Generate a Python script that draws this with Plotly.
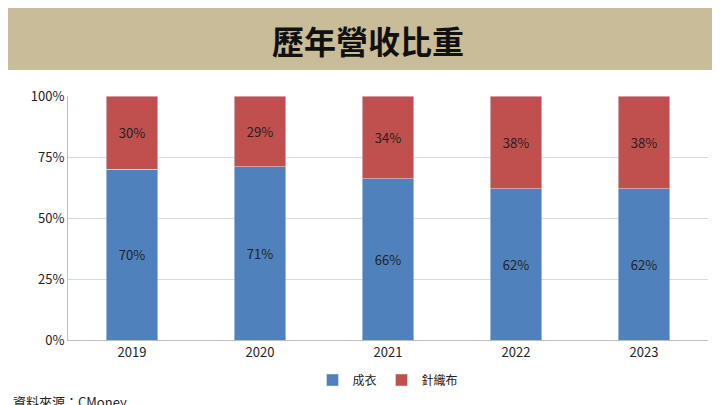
import plotly.graph_objects as go

years = ["2019", "2020", "2021", "2022", "2023"]
cost = [70, 71, 66, 62, 62]
knit = [30, 29, 34, 38, 38]
y_ticks = [0, 25, 50, 75, 100]

font = "Noto Sans CJK TC"

fig = go.Figure()
fig.add_trace(go.Bar(x=years, y=cost, name="成衣", marker_color="#4f81bd",
                     text=[f"{v}%" for v in cost], textposition="inside",
                     insidetextanchor="middle", textfont=dict(color="#222", size=13)))
fig.add_trace(go.Bar(x=years, y=knit, name="針織布", marker_color="#c0504d",
                     text=[f"{v}%" for v in knit], textposition="inside",
                     insidetextanchor="middle", textfont=dict(color="#222", size=13)))

fig.update_layout(
    barmode="stack", bargap=0.6,
    width=720, height=405,
    paper_bgcolor="white", plot_bgcolor="white",
    font=dict(family=font, size=13, color="#222"),
    margin=dict(l=60, r=20, t=88, b=73, autoexpand=False),
    legend=dict(orientation="h", x=0.5, xanchor="center", y=-0.164, yanchor="middle",
                traceorder="normal", font=dict(size=12)),
    uniformtext=dict(mode="show", minsize=12),
    shapes=[dict(type="rect", xref="paper", yref="paper", x0=-0.2, x1=1.2,
                 y0=1.107, y1=1.5, fillcolor="#c9bd99", line_width=0, layer="below")],
    annotations=[
        dict(text="<b>歷年營收比重</b>", xref="paper", yref="paper", x=0.469, y=1.23,
             yanchor="middle", showarrow=False, font=dict(size=32, color="#111")),
        dict(text="資料來源：CMoney", xref="paper", yref="paper", x=-0.089, xanchor="left",
             y=-0.254, yanchor="middle", showarrow=False, font=dict(size=13, color="#222")),
    ],
)
fig.update_yaxes(range=[0, 100], tickvals=y_ticks, ticktext=[f"{v}%" for v in y_ticks],
                 gridcolor="#d9d9d9", showline=True, linecolor="#bfbfbf", zeroline=False)
fig.update_xaxes(showline=True, linecolor="#bfbfbf", ticks="")

fig.write_html("out.html")
